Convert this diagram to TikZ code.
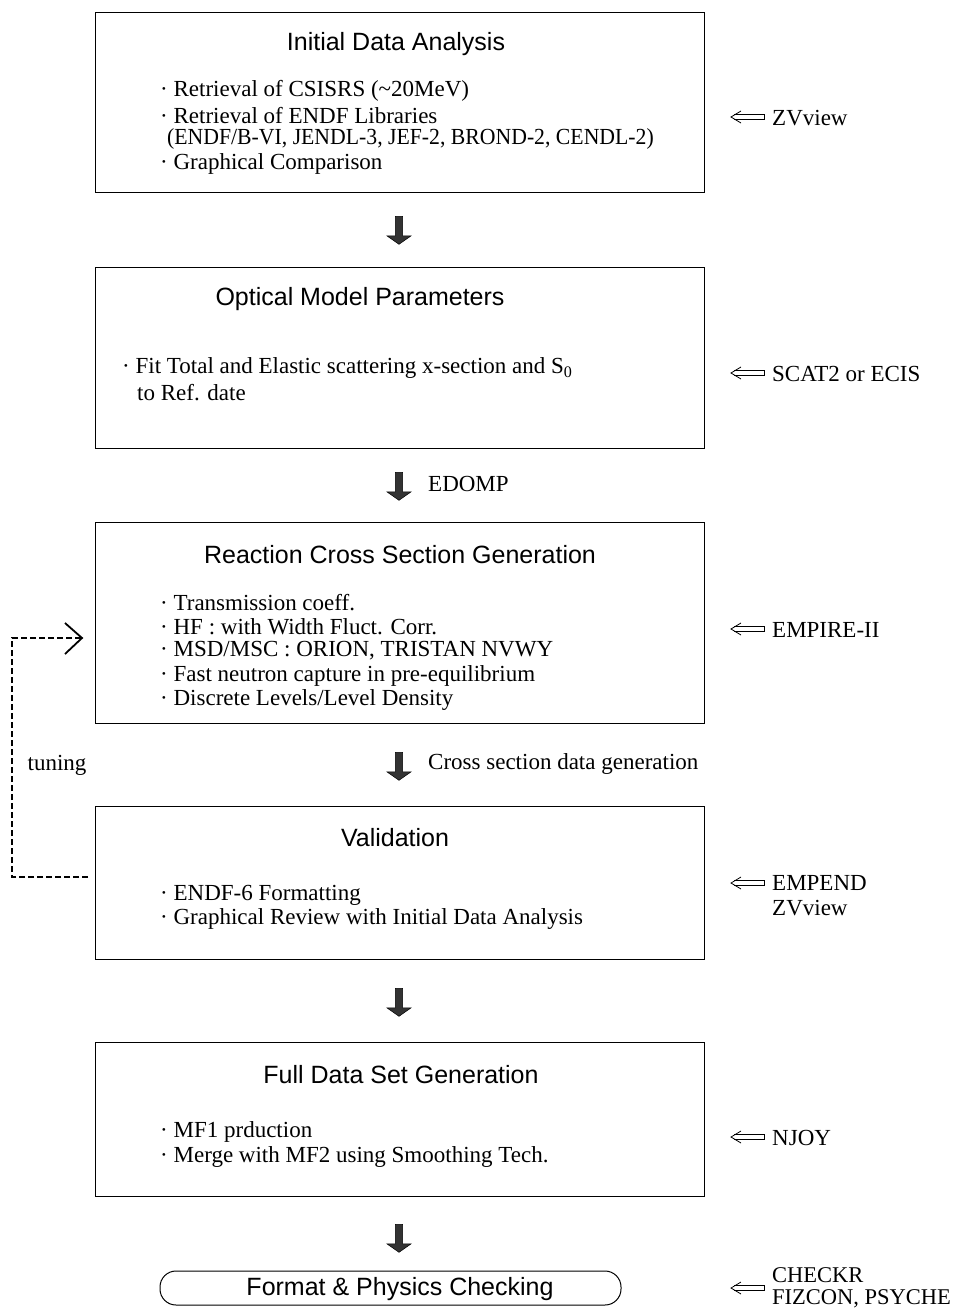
\documentclass[tikz,border=0pt]{standalone}
\usepackage{fontspec}
\usepackage{graphicx}
\setmainfont{Liberation Serif}
\newfontfamily\hv{Liberation Sans}
\usetikzlibrary{shapes.arrows}
\begin{document}
\begin{tikzpicture}[x=1pt,y=-1pt,
  box/.style={draw,line width=1pt,minimum width=609pt,inner sep=0pt,anchor=north west},
  ttl/.style={font=\hv\fontsize{25}{28}\selectfont,inner sep=0pt},
  txt/.style={font=\fontsize{23}{25}\selectfont,inner sep=0pt,anchor=west},
  dn/.style={single arrow,shape border rotate=270,fill=black!80,draw=black,line width=0.5pt,
     minimum height=28pt,minimum width=24pt,single arrow head extend=5pt,single arrow tip angle=110,inner sep=2pt},
  lft/.style={line width=0.8pt}]
\useasboundingbox (0,0) rectangle (962,1309);
% boxes
\node[box,minimum height=180pt] (b1) at (95,12) {};
\node[box,minimum height=181pt] (b2) at (95,267) {};
\node[box,minimum height=201pt] (b3) at (95,522) {};
\node[box,minimum height=153pt] (b4) at (95,806) {};
\node[box,minimum height=154pt] (b5) at (95,1042) {};
\node[draw,line width=1pt,rounded corners=16pt,minimum width=461pt,minimum height=34pt,inner sep=0pt] (b6) at (390.5,1288) {};
% titles
\node[ttl] (t1) at (396,44) {Initial Data Analysis};
\node[ttl] (t2) at (360,299) {Optical Model Parameters};
\node[ttl] (t3) at (400,555) {Reaction Cross Section Generation};
\node[ttl] (t4) at (395,838) {Validation};
\node[ttl] (t5) at (401,1075) {Full Data Set Generation};
\node[ttl] (t6) at (400,1289) {Format \& Physics Checking};
% box 1 text
\node[txt] (l11) at (160,91) {· Retrieval of CSISRS (\textasciitilde20MeV)};
\node[txt] (l12) at (160,116) {· Retrieval of ENDF Libraries};
\node[txt] (l13) at (167,139) {\scalebox{0.945}[1]{(ENDF/B-VI, JENDL-3, JEF-2, BROND-2, CENDL-2)}};
\node[txt] (l14) at (160,164) {· Graphical Comparison};
% box 2 text
\node[txt] (l21) at (122,368) {· Fit Total and Elastic scattering x-section and S\textsubscript{0}};
\node[txt] (l22) at (137,393) {to Ref. date};
% box 3 text
\node[txt] (l31) at (160,603) {· Transmission coeff.};
\node[txt] (l32) at (160,627) {· HF : with Width Fluct. Corr.};
\node[txt] (l33) at (160,651) {· MSD/MSC : ORION, TRISTAN NVWY};
\node[txt] (l34) at (160,676) {· Fast neutron capture in pre-equilibrium};
\node[txt] (l35) at (160,700) {· Discrete Levels/Level Density};
% box 4 text
\node[txt] (l41) at (160,895) {· ENDF-6 Formatting};
\node[txt] (l42) at (160,919) {· Graphical Review with Initial Data Analysis};
% box 5 text
\node[txt] (l51) at (160,1132) {· MF1 prduction};
\node[txt] (l52) at (160,1157) {· Merge with MF2 using Smoothing Tech.};
% down arrows
\node[dn] (a1) at (399,229) {};
\node[dn] (a2) at (399,485) {};
\node[dn] (a3) at (399,765) {};
\node[dn] (a4) at (399,1001) {};
\node[dn] (a5) at (399,1237) {};
\node[txt] (e2) at (428,484) {EDOMP};
\node[txt] (e3) at (428,764) {Cross section data generation};
% right side labels
\newcommand{\lftarrow}[1]{%
  \draw[lft] (741,#1-6) -- (731,#1) -- (741,#1+6);
  \draw[lft] (734,#1-2.5) -- (764,#1-2.5) -- (764,#1+2.5) -- (734,#1+2.5);}
\lftarrow{117}
\node[txt] (r1) at (772,118) {ZVview};
\lftarrow{373}
\node[txt] (r2) at (772,374) {SCAT2 or ECIS};
\lftarrow{629}
\node[txt] (r3) at (772,630) {EMPIRE-II};
\lftarrow{883}
\node[txt,align=left] (r4) at (772,896) {EMPEND\\ZVview};
\lftarrow{1137}
\node[txt] (r5) at (772,1138) {NJOY};
\lftarrow{1288}
\node[txt,align=left,font=\fontsize{22.5}{22}\selectfont] (r6) at (772,1288) {CHECKR\\FIZCON, PSYCHE};
% tuning loop
\coordinate (ls) at ([xshift=-7pt]b4.west |- 0,877);
\coordinate (le) at (82,638);
\draw[line width=1.3pt,dash pattern=on 6pt off 3pt] (ls) -- (12,877) -- (12,638) -- (le);
\draw[line width=1.8pt] (65,623) -- (le) -- (65,654);
\node[txt,anchor=center] (tun) at (57,765) {tuning};
\end{tikzpicture}
\end{document}
